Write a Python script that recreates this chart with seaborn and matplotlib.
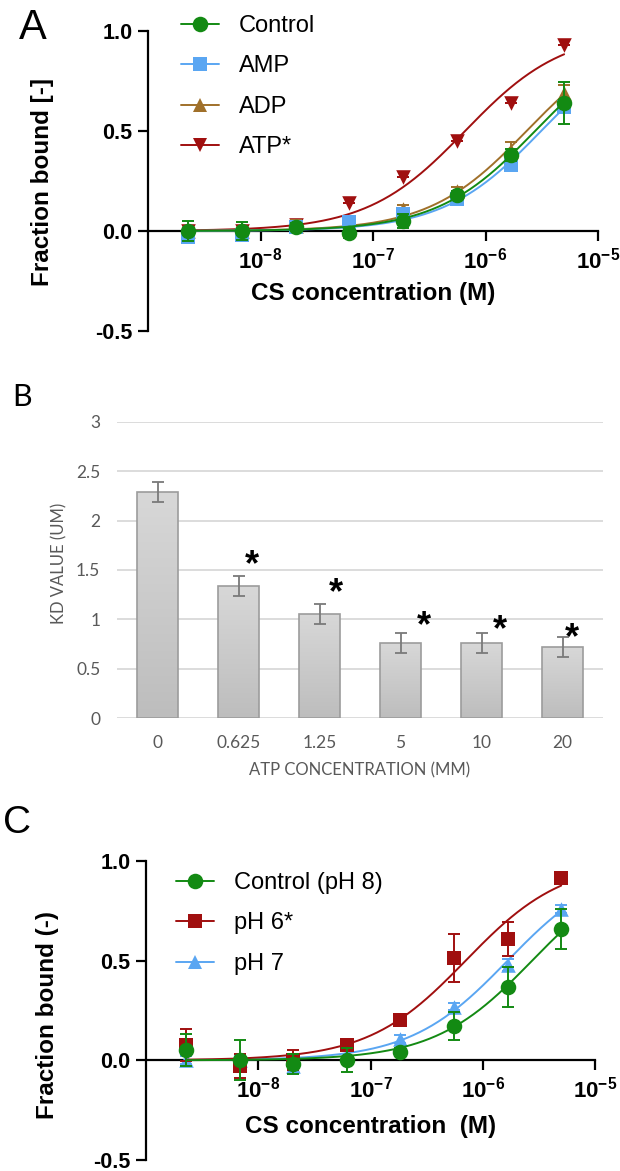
import numpy as np
import pandas as pd
import matplotlib
matplotlib.use("Agg")
import matplotlib.pyplot as plt
import seaborn as sns
from matplotlib.lines import Line2D
from matplotlib.ticker import NullLocator
from matplotlib.colors import LinearSegmentedColormap

# ---------------- data ----------------
conc = [2.29e-9, 6.86e-9, 2.06e-8, 6.17e-8, 1.85e-7, 5.56e-7, 1.67e-6, 5.0e-6]

# Panel A
a_labels = ["Control", "AMP", "ADP", "ATP*"]
a_control = [0.00, 0.00, 0.02, -0.01, 0.05, 0.18, 0.38, 0.64]
a_control_err = [0.05, 0.045, 0.02, 0.025, 0.035, 0.02, 0.03, 0.105]
a_amp = [-0.03, -0.02, 0.02, 0.045, 0.085, 0.16, 0.33, 0.62]
a_amp_err = [0.02, 0.02, 0.02, 0.01, 0.02, 0.02, 0.02, 0.03]
a_adp = [0.00, 0.00, 0.025, 0.01, 0.11, 0.20, 0.40, 0.69]
a_adp_err = [0.01, 0.01, 0.03, 0.01, 0.02, 0.02, 0.045, 0.04]
a_atp = [0.00, 0.00, 0.03, 0.14, 0.27, 0.45, 0.64, 0.93]
a_atp_err = [0.0, 0.0, 0.0, 0.0, 0.0, 0.0, 0.0, 0.0]

# Panel B
b_categories = ["0", "0.625", "1.25", "5", "10", "20"]
b_kd = [2.29, 1.34, 1.055, 0.76, 0.76, 0.72]
b_kd_err = [0.10, 0.10, 0.10, 0.10, 0.10, 0.10]
b_significant = [False, True, True, True, True, True]

# Panel C
c_labels = ["Control (pH 8)", "pH 6*", "pH 7"]
c_ph8 = [0.05, 0.00, -0.02, 0.00, 0.04, 0.17, 0.37, 0.66]
c_ph8_err = [0.08, 0.10, 0.05, 0.06, 0.02, 0.07, 0.10, 0.10]
c_ph6 = [0.075, -0.03, 0.00, 0.075, 0.20, 0.515, 0.61, 0.915]
c_ph6_err = [0.08, 0.06, 0.05, 0.02, 0.02, 0.12, 0.085, 0.02]
c_ph7 = [0.00, 0.00, -0.03, 0.03, 0.105, 0.27, 0.48, 0.76]
c_ph7_err = [0.02, 0.02, 0.02, 0.02, 0.02, 0.02, 0.03, 0.02]

# ---------------- style ----------------
sns.set_theme(style="white")
plt.rcParams["font.family"] = ["Liberation Sans", "DejaVu Sans"]
plt.rcParams["mathtext.fontset"] = "custom"
plt.rcParams["mathtext.rm"] = "Liberation Sans:bold"
plt.rcParams["mathtext.it"] = "Liberation Sans:bold"
plt.rcParams["mathtext.bf"] = "Liberation Sans:bold"
plt.rcParams["text.color"] = "black"
plt.rcParams["axes.labelcolor"] = "black"
plt.rcParams["xtick.color"] = "black"
plt.rcParams["ytick.color"] = "black"

GREEN = "#138a13"
BLUE = "#5aa6f2"
BROWN = "#a0702a"
RED = "#a00f0f"

W, H = 620, 1171
fig = plt.figure(figsize=(W / 100, H / 100), dpi=100)


def fig_axes(left, top, right, bottom):
    return fig.add_axes([left / W, 1 - bottom / H, (right - left) / W, (bottom - top) / H])


def fit_kd(x, y):
    x = np.asarray(x)
    y = np.asarray(y)
    grid = np.logspace(-8, -4, 4000)
    sse = [np.sum((y - x / (k + x)) ** 2) for k in grid]
    return grid[int(np.argmin(sse))]


def binding_panel(ax, series, legend_anchor, xlabel, ylabel, ylabel_pos):
    xs = np.logspace(np.log10(conc[0]), np.log10(conc[-1]), 300)
    handles = []
    for z, (name, y, err, color, marker, size) in enumerate(series[::-1]):
        kd = fit_kd(conc, y)
        ax.errorbar(conc, y, yerr=err, fmt="none", ecolor=color, elinewidth=1.4,
                    capsize=4.2, capthick=1.4, zorder=3 + 3 * z)
        sns.lineplot(x=xs, y=xs / (kd + xs), ax=ax, color=color, lw=1.4,
                     zorder=4 + 3 * z, legend=False)
        sns.scatterplot(x=conc, y=y, ax=ax, marker=marker, s=size, color=color,
                        edgecolor=color, linewidth=0, zorder=5 + 3 * z, legend=False)
    for name, y, err, color, marker, size in series:
        handles.append(Line2D([0], [0], color=color, lw=1.4, marker=marker,
                              markersize=np.sqrt(size), markeredgewidth=0, label=name))
    ax.set_xscale("log")
    ax.set_xlim(1e-9, 1e-5)
    ax.set_ylim(-0.5, 1.0)
    for s in ["top", "right"]:
        ax.spines[s].set_visible(False)
    ax.spines["bottom"].set_position(("data", 0))
    for s in ["left", "bottom"]:
        ax.spines[s].set_linewidth(1.6)
        ax.spines[s].set_color("black")
    ax.set_xticks([1e-8, 1e-7, 1e-6, 1e-5])
    ax.set_xticklabels([r"$10^{-8}$", r"$10^{-7}$", r"$10^{-6}$", r"$10^{-5}$"])
    ax.xaxis.set_minor_locator(NullLocator())
    ax.set_yticks([-0.5, 0.0, 0.5, 1.0])
    ax.set_yticklabels(["-0.5", "0.0", "0.5", "1.0"])
    ax.tick_params(axis="x", direction="out", length=7, width=1.6, pad=5,
                   labelsize=16, bottom=True, colors="black")
    ax.tick_params(axis="y", direction="out", length=7, width=1.6, pad=4,
                   labelsize=15.5, left=True, colors="black")
    for t in ax.get_yticklabels():
        t.set_fontweight("bold")
    ax.set_xlabel("")
    ax.set_ylabel("")
    ax.text(0.5, xlabel[1], xlabel[0], transform=ax.transAxes, ha="center",
            va="center", fontsize=17.5, fontweight="bold", color="black")
    fig.text(ylabel_pos[0] / W, 1 - ylabel_pos[1] / H, ylabel, rotation=90,
             ha="center", va="center", fontsize=17.5, fontweight="bold", color="black")
    leg = ax.legend(handles=handles, loc="upper left", bbox_to_anchor=legend_anchor,
                    bbox_transform=fig.transFigure, frameon=False, fontsize=17,
                    handlelength=1.6, handletextpad=0.85, labelspacing=0.78,
                    borderpad=0, borderaxespad=0)
    for t in leg.get_texts():
        t.set_color("black")
    ax.patch.set_alpha(0)


# ---------------- Panel A ----------------
axA = fig_axes(148, 31, 598, 331)
seriesA = [
    ("Control", a_control, a_control_err, GREEN, "o", 125),
    ("AMP", a_amp, a_amp_err, BLUE, "s", 95),
    ("ADP", a_adp, a_adp_err, BROWN, "^", 110),
    ("ATP*", a_atp, a_atp_err, RED, "v", 110),
]
binding_panel(axA, seriesA, (181 / W, 1 - 15 / H),
              ("CS concentration (M)", (331 - 293) / 300), "Fraction bound [-]", (43, 182))
fig.text(33 / W, 1 - 28 / H, "A", ha="center", va="center", fontsize=30)

# ---------------- Panel B ----------------
B_TEXT = "#595959"
axB = fig_axes(117, 421.7, 603, 718.3)
dfB = pd.DataFrame({"atp": b_categories, "kd": b_kd, "err": b_kd_err})
sns.barplot(data=dfB, x="atp", y="kd", order=b_categories, ax=axB, color="#c8c8c8",
            width=0.5, edgecolor="#9c9c9c", linewidth=1.2, errorbar=None, zorder=2)
axB.set_ylim(0, 3)
axB.set_xlim(-0.5, len(b_categories) - 0.5)
grad_cmap = LinearSegmentedColormap.from_list("g", ["#bdbdbd", "#d8d8d8"])
grad = np.linspace(0, 1, 256).reshape(-1, 1)
for p in list(axB.patches):
    x0, y0, w, h = p.get_x(), p.get_y(), p.get_width(), p.get_height()
    im = axB.imshow(grad, extent=[x0, x0 + w, y0, y0 + h], origin="lower",
                    cmap=grad_cmap, aspect="auto", zorder=2.1)
    im.set_clip_path(p)
    p.set_facecolor("none")
    p.set_zorder(2.2)
axB.set_ylim(0, 3)
axB.set_xlim(-0.5, len(b_categories) - 0.5)
axB.errorbar(range(len(b_categories)), b_kd, yerr=b_kd_err, fmt="none", ecolor="#7a7a7a",
             elinewidth=1.3, capsize=4, capthick=1.3, zorder=3)
star_dx = [0, 0.17, 0.2, 0.29, 0.23, 0.12]
star_dy = [0, 0.14, 0.145, 0.11, 0.07, 0.03]
for i, (v, e, sig) in enumerate(zip(b_kd, b_kd_err, b_significant)):
    if sig:
        axB.text(i + star_dx[i], v + e + star_dy[i], "*", ha="center",
                 va="center_baseline", fontsize=26, fontweight="bold", color="black",
                 transform=axB.transData, zorder=4)
axB.set_yticks(np.arange(0, 3.01, 0.5))
axB.set_yticklabels(["0", "0.5", "1", "1.5", "2", "2.5", "3"])
axB.yaxis.grid(True, color="#d9d9d9", lw=1.3, zorder=0)
axB.xaxis.grid(False)
axB.set_axisbelow(True)
for s in axB.spines.values():
    s.set_visible(False)
axB.tick_params(axis="both", length=0, labelsize=12.5, labelcolor=B_TEXT)
axB.tick_params(axis="x", pad=12)
axB.tick_params(axis="y", pad=12)
for t in axB.get_xticklabels() + axB.get_yticklabels():
    t.set_fontfamily(["Lato", "DejaVu Sans"])
axB.set_xlabel("")
axB.set_ylabel("")
fig.text(360 / W, 1 - 770 / H, "ATP CONCENTRATION (MM)", ha="center", va="center",
         fontsize=12, color=B_TEXT, family=["Lato", "DejaVu Sans"])
fig.text(59 / W, 1 - 563 / H, "KD VALUE (UM)", ha="center", va="center", rotation=90,
         fontsize=12, color=B_TEXT, family=["Lato", "DejaVu Sans"])
fig.text(22 / W, 1 - 397 / H, "B", ha="center", va="center", fontsize=22,
         family=["Lato", "DejaVu Sans"])

# ---------------- Panel C ----------------
axC = fig_axes(146, 861, 595, 1160)
seriesC = [
    ("Control (pH 8)", c_ph8, c_ph8_err, GREEN, "o", 125),
    ("pH 6*", c_ph6, c_ph6_err, RED, "s", 95),
    ("pH 7", c_ph7, c_ph7_err, BLUE, "^", 110),
]
binding_panel(axC, seriesC, (176 / W, 1 - 872 / H),
              ("CS concentration  (M)", (1160 - 1127) / 299), "Fraction bound (-)", (48, 1015))
fig.text(17 / W, 1 - 823 / H, "C", ha="center", va="center", fontsize=28)

fig.savefig("out.png", dpi=100)
